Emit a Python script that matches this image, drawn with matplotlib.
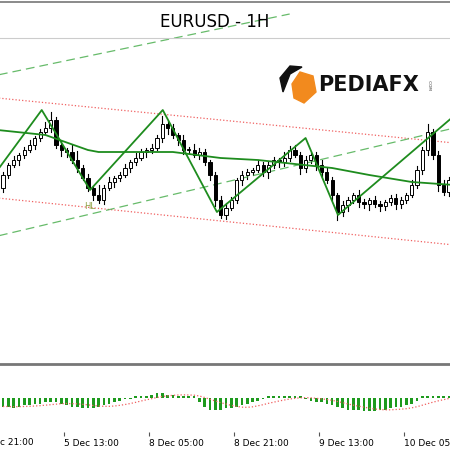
import matplotlib
matplotlib.use("Agg")
import matplotlib.pyplot as plt
import matplotlib.transforms as mtransforms
import numpy as np
from matplotlib.patches import Polygon

# close prices (one per 1H bar)
closes = [1.1625, 1.1635, 1.1640, 1.1645, 1.1650, 1.1655, 1.1662, 1.1668, 1.1672,
          1.1680, 1.1655, 1.1650, 1.1648, 1.1640, 1.1632, 1.1622, 1.1612, 1.1605,
          1.1600, 1.1612, 1.1618, 1.1622, 1.1625, 1.1632, 1.1638, 1.1642, 1.1648,
          1.1650, 1.1652, 1.1662, 1.1676, 1.1672, 1.1665, 1.1660, 1.1650, 1.1650,
          1.1645, 1.1648, 1.1638, 1.1625, 1.1600, 1.1585, 1.1592, 1.1600, 1.1620,
          1.1625, 1.1628, 1.1630, 1.1635, 1.1628, 1.1635, 1.1640, 1.1638, 1.1642,
          1.1650, 1.1645, 1.1632, 1.1640, 1.1645, 1.1635, 1.1628, 1.1620, 1.1605,
          1.1588, 1.1595, 1.1600, 1.1605, 1.1598, 1.1596, 1.1600, 1.1596, 1.1594,
          1.1598, 1.1602, 1.1596, 1.1600, 1.1605, 1.1615, 1.1630, 1.1650, 1.1668,
          1.1645, 1.1615, 1.1608, 1.1620]
first_open = 1.1612
wick_up = [3, 2, 4, 2, 3, 5, 2, 3, 6, 8, 3, 4, 2, 7, 9, 3, 4, 2, 10, 3, 5, 2, 3,
           4, 2, 5, 3, 2, 4, 3, 8, 3, 4, 2, 5, 3, 6, 4, 3, 2, 3, 4, 5, 3, 2, 4, 3,
           2, 5, 3, 4, 3, 2, 6, 4, 5, 3, 4, 2, 3, 5, 4, 3, 2, 4, 3, 2, 5, 3, 2, 4,
           3, 2, 3, 4, 3, 2, 5, 4, 3, 8, 3, 4, 5, 3]
wick_dn = [4, 3, 2, 5, 3, 2, 4, 3, 2, 4, 3, 6, 5, 3, 4, 2, 3, 5, 3, 4, 2, 5, 3,
           2, 4, 3, 2, 5, 3, 2, 4, 6, 3, 5, 4, 3, 2, 4, 3, 5, 6, 3, 4, 2, 3, 5, 4,
           3, 2, 4, 6, 3, 5, 4, 3, 2, 6, 4, 3, 5, 4, 3, 5, 8, 4, 6, 3, 5, 4, 6, 3,
           5, 4, 3, 5, 4, 3, 2, 3, 4, 5, 4, 6, 3, 4]

# zigzag pivots (bar index, price)
zz_x = [-1, 7.3, 16.4, 30.1, 40.3, 57.0, 63.1, 84.5]
zz_p = [1.1630, 1.1690, 1.1610, 1.1690, 1.1588, 1.1662, 1.1585, 1.1682]

# moving average points
ma_x = [-1, 8, 16, 18, 32, 41, 48, 62, 69, 77, 85]
ma_p = [1.1670, 1.1665, 1.1650, 1.1648, 1.1648, 1.1642, 1.1640, 1.1632, 1.1625,
        1.1618, 1.1615]

# channel lines (start/end bar index, price)
red_hi = [(-1, 1.1702), (85, 1.1657)]
red_lo = [(-1, 1.1602), (85, 1.1555)]
grn_hi = [(-1, 1.1725), (54, 1.1786)]
grn_lo = [(-1, 1.1564), (85, 1.1672)]

# OsMA histogram
hist = [-6, -6, -7, -6, -5, -5, -4, -4, -3, -3, -3, -4, -5, -6, -6, -7, -7, -7,
        -6, -5, -4, -3, -2, -1, -1, 0, 1, 1, 2, 3, 3, 2, 2, 1, 1, 0, 0, -3,
        -6, -8, -8, -8, -7, -7, -6, -5, -4, -3, -2, -1, 0, 0, 0, 0, 1, 0, 0,
        -1, -2, -3, -3, -4, -5, -6, -7, -8, -8, -8, -9, -9, -9, -8, -8, -7, -6,
        -6, -5, -4, -2, 0, 1, 1, 1, 1, 1]

tick_pos = [-4.5, 11.5, 27.5, 43.5, 59.5, 75.5]
tick_labels = ["4 Dec 21:00", "5 Dec 13:00", "8 Dec 05:00", "8 Dec 21:00",
               "9 Dec 13:00", "10 Dec 05:00"]

W, H = 450, 450
fig = plt.figure(figsize=(4.5, 4.5), dpi=100)


def fy(py):
    return 1 - py / H


ax = fig.add_axes([0, fy(363), 1, (363 - 38) / H])
xlim = (-0.56, 84.2)
ax.set_xlim(*xlim)
ax.set_ylim(1.1800 - 0.0363, 1.1800 - 0.0038)
ax.axis("off")

opens = [first_open] + closes[:-1]
for i, (o, c) in enumerate(zip(opens, closes)):
    hi = max(o, c) + wick_up[i] * 0.0001
    lo = min(o, c) - wick_dn[i] * 0.0001
    ax.plot([i, i], [lo, hi], color="black", lw=0.8, zorder=2)
    bull = c >= o
    ax.bar(i, max(abs(c - o), 0.00008), bottom=min(o, c), width=0.6,
           color="white" if bull else "black", edgecolor="black", lw=0.7, zorder=3)

for ln in (red_hi, red_lo):
    ax.plot([p[0] for p in ln], [p[1] for p in ln], color="#f06060", ls=":", lw=0.9)
for ln in (grn_hi, grn_lo):
    ax.plot([p[0] for p in ln], [p[1] for p in ln], color="#4caf50", ls=(0, (7, 4)),
            lw=0.9, clip_on=False, alpha=0.85)
ax.plot(ma_x, ma_p, color="#1e8c1e", lw=1.3, zorder=4)
ax.plot(zz_x, zz_p, color="#1e8c1e", lw=1.3, zorder=4)
ax.text(16.4, 1.1598, "HL", color="#8da040", fontsize=6, ha="center", va="top")

# indicator panel
ax2 = fig.add_axes([0, fy(432), 1, (432 - 366) / H])
ax2.set_ylim(-23, 21)
x = np.arange(len(hist))
h = np.array(hist, dtype=float)
ax2.bar(x, np.where(h == 0, 0.8, h), width=0.5, color="#1e9a1e")
sig = np.convolve(np.r_[[h[0]] * 8, h], np.ones(9) / 9, mode="valid")
ax2.plot(x, sig, color="#f06060", ls=":", lw=0.9)
ax2.set_yticks([])
for s in ("top", "left", "right", "bottom"):
    ax2.spines[s].set_visible(False)
ax2.set_xticks(tick_pos[1:])
ax2.set_xticklabels(tick_labels[1:], fontsize=6.5, ha="left")
ax2.tick_params(axis="x", length=3, pad=2, color="#555555")
ax2.set_xlim(*xlim)
# first label sits left of the view, partly cut off as in the terminal
trans = mtransforms.blended_transform_factory(ax2.transData, ax2.transAxes)
ax2.text(tick_pos[0], -0.09, tick_labels[0], fontsize=6.5, ha="left", va="top",
         transform=trans, clip_on=False)

# frame lines and title
fig.add_artist(plt.Line2D([0, 1], [fy(2), fy(2)], color="#777777", lw=1.2))
fig.add_artist(plt.Line2D([0, 1], [fy(38), fy(38)], color="#cccccc", lw=0.8))
fig.add_artist(plt.Line2D([0, 1], [fy(364), fy(364)], color="#777777", lw=2))
fig.text(215 / W, fy(22), "EURUSD - 1H", fontsize=12, ha="center", va="center")

# logo
fig.add_artist(Polygon([[292 / W, fy(84)], [300 / W, fy(72)], [313 / W, fy(76)],
                        [316 / W, fy(92)], [304 / W, fy(103)], [294 / W, fy(98)]],
                       closed=True, color="#f28a1e", transform=fig.transFigure))
fig.add_artist(Polygon([[280 / W, fy(78)], [290 / W, fy(66)], [302 / W, fy(67)],
                        [290 / W, fy(74)], [283 / W, fy(92)]],
                       closed=True, color="#111111", transform=fig.transFigure))
fig.text(318 / W, fy(85), "PEDIAFX", fontsize=15, fontweight="bold", ha="left",
         va="center", color="#111111")
fig.text(429 / W, fy(85), ".COM", fontsize=3, rotation=-90, ha="center",
         va="center", color="#333333")

fig.savefig("out.png", dpi=100)
